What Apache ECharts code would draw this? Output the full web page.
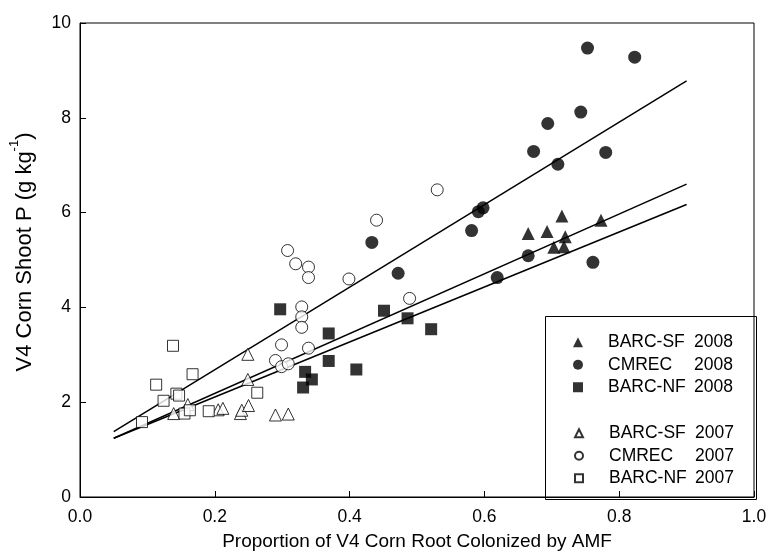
<!DOCTYPE html>
<html>
<head>
<meta charset="utf-8">
<script src="https://cdn.jsdelivr.net/npm/echarts@6/dist/echarts.min.js"></script>
<style>
  html, body { margin: 0; padding: 0; background: #fff; }
  #chart { width: 779px; height: 560px; }
</style>
</head>
<body>
<div id="chart"></div>
<script>
// points: [proportion colonized, shoot P]
var barcSf2008 = [[0.665, 5.56], [0.693, 5.60], [0.703, 5.27], [0.715, 5.93], [0.718, 5.28], [0.720, 5.49], [0.773, 5.84]]
var cmrec2008 = [[0.433, 5.37], [0.472, 4.72], [0.581, 5.62], [0.591, 6.02], [0.598, 6.10], [0.619, 4.63], [0.665, 5.09],
  [0.673, 7.29], [0.694, 7.88], [0.709, 7.02], [0.743, 8.12], [0.753, 9.47], [0.761, 4.95], [0.780, 7.27], [0.823, 9.28]]
var barcNf2008 = [[0.297, 3.96], [0.331, 2.31], [0.334, 2.64], [0.344, 2.48], [0.369, 3.45], [0.369, 2.87],
  [0.410, 2.69], [0.451, 3.93], [0.486, 3.77], [0.521, 3.54]]
var barcSf2007 = [[0.139, 1.76], [0.160, 1.95], [0.205, 1.84], [0.212, 1.87], [0.238, 1.76], [0.240, 1.83],
  [0.250, 1.93], [0.249, 2.48], [0.249, 3.01], [0.290, 1.73], [0.309, 1.75]]
var cmrec2007 = [[0.290, 2.88], [0.299, 3.21], [0.299, 2.75], [0.308, 5.20], [0.309, 2.81], [0.320, 4.92],
  [0.329, 4.01], [0.329, 3.80], [0.329, 3.58], [0.339, 4.85], [0.339, 4.63], [0.339, 3.14],
  [0.399, 4.60], [0.440, 5.84], [0.489, 4.19], [0.530, 6.48]]
var barcNf2007 = [[0.092, 1.58], [0.113, 2.37], [0.124, 2.03], [0.138, 3.19], [0.143, 2.18], [0.147, 2.14],
  [0.155, 1.76], [0.163, 1.83], [0.167, 2.59], [0.191, 1.81], [0.263, 2.20]]

// regression lines, end points at x = 0.05 and x = 0.9
var fitUpper = [[0.05, 1.38], [0.9, 8.78]]
var fitMiddle = [[0.05, 1.24], [0.9, 6.60]]
var fitLower = [[0.05, 1.24], [0.9, 6.17]]

var legend2008 = ['BARC-SF 2008', 'CMREC 2008', 'BARC-NF 2008']
var legend2007 = ['BARC-SF 2007', 'CMREC 2007', 'BARC-NF 2007']

var font = 'Liberation Sans, Arial, sans-serif'

function pts(name, data, symbol, filled, size) {
  return {
    name: name,
    type: 'scatter',
    data: data,
    symbol: symbol,
    symbolSize: size,
    itemStyle: filled
      ? { color: '#000' }
      : { color: '#fff', borderColor: '#000', borderWidth: 1 },
    z: filled ? 4 : 3
  }
}

function fit(data) {
  return {
    type: 'line',
    data: data,
    symbol: 'none',
    silent: true,
    lineStyle: { color: '#000', width: 1.5 },
    z: 2
  }
}

// legend rows: icon centred near x=573, text starting near x=608
function legendBlock(names, top, iconSize) {
  var left = 573 - iconSize / 2
  return {
    data: names,
    orient: 'vertical',
    left: left,
    top: top,
    itemGap: 0,
    itemWidth: iconSize,
    itemHeight: iconSize,
    symbolKeepAspect: true,
    selectedMode: false,
    formatter: function (n) {
      var i = n.lastIndexOf(' ')
      return '{a|' + n.slice(0, i) + '}{b|' + n.slice(i + 1) + '}'
    },
    textStyle: {
      fontFamily: font,
      fontSize: 17.5,
      color: '#000',
      lineHeight: 22.5,
      rich: {
        a: { width: 86, padding: [0, 0, 0, 608 - (left + iconSize + 5) - 5], fontSize: 17.5, fontFamily: font, color: '#000', lineHeight: 22.5 },
        b: { fontSize: 17.5, fontFamily: font, color: '#000', lineHeight: 22.5 }
      }
    }
  }
}

var chart = echarts.init(document.getElementById('chart'))
chart.setOption({
  animation: false,
  backgroundColor: '#fff',
  grid: {
    left: 76, right: 25, top: 23, bottom: 63,
    show: true, borderColor: '#000', borderWidth: 1
  },
  legend: [legendBlock(legend2008, 326, 10), legendBlock(legend2007, 417, 8)],
  graphic: [{
    type: 'rect',
    left: 543,
    top: 314,
    shape: { width: 211, height: 183 },
    style: { fill: 'none', stroke: '#000', lineWidth: 1 },
    z: 10
  }],
  xAxis: {
    type: 'value',
    min: 0, max: 1, interval: 0.2,
    name: 'Proportion of V4 Corn Root Colonized by AMF',
    nameLocation: 'middle',
    nameGap: 35,
    nameTextStyle: { fontFamily: font, fontSize: 19, color: '#000' },
    axisLine: { lineStyle: { color: '#000', width: 1 } },
    axisTick: { inside: true, length: 6, lineStyle: { color: '#000' } },
    axisLabel: {
      margin: 11, fontFamily: font, fontSize: 17.5, color: '#000',
      formatter: function (v) { return v.toFixed(1) }
    },
    splitLine: { show: false }
  },
  yAxis: {
    type: 'value',
    min: 0, max: 10, interval: 2,
    name: '{a|V4 Corn Shoot P (g kg}{s|-1}{a|)}',
    nameLocation: 'middle',
    nameGap: 44,
    nameTextStyle: {
      fontFamily: font, fontSize: 22, color: '#000',
      padding: [0, 0, 0, 16],
      rich: {
        a: { fontFamily: font, fontSize: 22, color: '#000', lineHeight: 28, verticalAlign: 'bottom' },
        s: { fontFamily: font, fontSize: 13, color: '#000', lineHeight: 28, verticalAlign: 'top' }
      }
    },
    axisLine: { lineStyle: { color: '#000', width: 1 } },
    axisTick: { inside: true, length: 6, lineStyle: { color: '#000' } },
    axisLabel: { margin: 9, fontFamily: font, fontSize: 17.5, color: '#000' },
    splitLine: { show: false }
  },
  series: [
    pts('BARC-SF 2008', barcSf2008, 'triangle', true, 13),
    pts('CMREC 2008', cmrec2008, 'circle', true, 13),
    pts('BARC-NF 2008', barcNf2008, 'rect', true, 12),
    pts('BARC-SF 2007', barcSf2007, 'triangle', false, 12),
    pts('CMREC 2007', cmrec2007, 'circle', false, 12),
    pts('BARC-NF 2007', barcNf2007, 'rect', false, 11),
    fit(fitUpper),
    fit(fitMiddle),
    fit(fitLower)
  ]
})
</script>
</body>
</html>
